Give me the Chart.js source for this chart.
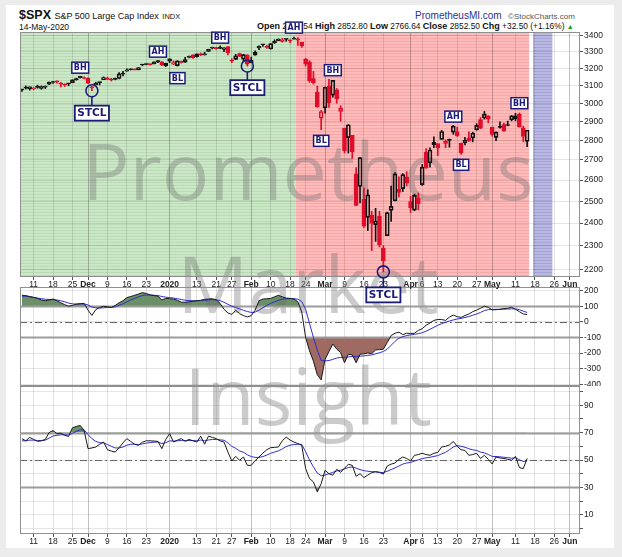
<!DOCTYPE html>
<html>
<head>
<meta charset="utf-8">
<script src="https://cdn.jsdelivr.net/npm/chart.js@4.4.1/dist/chart.umd.min.js"></script>
<style>
  body { margin: 0; background: #ececec; }
  #page { position: relative; width: 622px; height: 557px; overflow: hidden; font-family: "Liberation Sans", Arial, sans-serif; }
  #frame { position: absolute; left: 6px; top: 5px; width: 608px; height: 543px; background: #fff; }
  canvas { position: absolute; left: 0; }
  .hd { position: absolute; white-space: nowrap; line-height: 1; color: #111; }
  .hd b { font-size: 9px; }
</style>
</head>
<body>
<div id="page">
  <div id="frame"></div>
  <div class="hd" style="left:19px;top:9px;font-size:12.5px;font-weight:bold;">$SPX <span style="font-weight:normal;font-size:9px;">S&amp;P 500 Large Cap Index</span> <span style="font-weight:normal;font-size:7.5px;">INDX</span></div>
  <div class="hd" style="left:19px;top:23px;font-size:8.5px;">14-May-2020</div>
  <div class="hd" style="left:415px;top:11px;font-size:10px;color:#2e3192;">PrometheusMI.com</div>
  <div class="hd" style="left:508px;top:13px;font-size:8px;color:#555;">&copy;StockCharts.com</div>
  <div class="hd" style="left:257px;top:22px;font-size:8.4px;"><b>Open</b> 2794.54 <b>High</b> 2852.80 <b>Low</b> 2766.64 <b>Close</b> 2852.50 <b>Chg</b> +32.50 (+1.16%) <span style="color:#1a9a1a;font-size:7px;">&#9650;</span></div>
  <canvas id="rsi" width="622" height="171" style="top:386px;"></canvas>
  <canvas id="cci" width="622" height="99" style="top:287px;"></canvas>
  <canvas id="price" width="622" height="305" style="top:0;z-index:3;"></canvas>
</div>
<script>
// trading days shown on the axis (data ends 14-May, the rest is empty space)
const tradingDays = [
  ['2019-11', [6,7,8,11,12,13,14,15,18,19,20,21,22,25,26,27,29]],
  ['2019-12', [2,3,4,5,6,9,10,11,12,13,16,17,18,19,20,23,24,26,27,30,31]],
  ['2020-01', [2,3,6,7,8,9,10,13,14,15,16,17,21,22,23,24,27,28,29,30,31]],
  ['2020-02', [3,4,5,6,7,10,11,12,13,14,18,19,20,21,24,25,26,27,28]],
  ['2020-03', [2,3,4,5,6,9,10,11,12,13,16,17,18,19,20,23,24,25,26,27,30,31]],
  ['2020-04', [1,2,3,6,7,8,9,13,14,15,16,17,20,21,22,23,24,27,28,29,30]],
  ['2020-05', [1,4,5,6,7,8,11,12,13,14,15,18,19,20,21,22,26,27,28,29]],
  ['2020-06', [1,2,3]]
];
const dates = tradingDays.flatMap(([m, days]) => days.map(d => m + '-' + String(d).padStart(2, '0')));

const tickDates = ['2019-11-11','2019-11-18','2019-11-25','2019-12-02','2019-12-09','2019-12-16','2019-12-23',
  '2020-01-02','2020-01-13','2020-01-21','2020-01-27','2020-02-03','2020-02-10','2020-02-18','2020-02-24',
  '2020-03-02','2020-03-09','2020-03-16','2020-03-23','2020-04-01','2020-04-06','2020-04-13','2020-04-20',
  '2020-04-27','2020-05-01','2020-05-11','2020-05-18','2020-05-26','2020-06-01'];
const tickLabels = ['11','18','25','Dec','9','16','23','2020','13','21','27','Feb','10','18','24',
  'Mar','9','16','23','Apr','6','13','20','27','May','11','18','26','Jun'];

const opens = [3075.10,3087.02,3081.25,3080.33,3089.28,3084.18,3090.75,3107.92,3117.91,3127.45,3114.66,3108.49,3111.41,3117.44,3134.85,3145.49,3147.18,
  3143.85,3087.41,3103.50,3119.21,3134.62,3141.86,3135.36,3135.75,3141.23,3166.65,3183.63,3195.40,3195.21,3192.32,3223.33,3226.05,3225.45,3227.20,3247.23,3240.09,3215.18,
  3244.67,3226.36,3217.55,3241.86,3238.59,3266.03,3281.81,3271.13,3285.35,3282.27,3302.97,3323.66,3321.03,3330.02,3315.77,3333.10,3247.16,3255.35,3289.46,3256.45,3282.33,
  3235.66,3280.61,3324.91,3344.92,3335.54,3318.28,3365.87,3370.50,3365.90,3378.08,3369.04,3380.39,3380.45,3360.50,3257.61,3238.94,3139.90,3062.54,2916.90,
  2974.28,3096.46,3045.75,3075.70,2954.20,2863.89,2813.48,2825.60,2630.86,2569.99,2508.59,2425.66,2436.50,2393.48,2431.94,2290.71,2344.44,2457.77,2501.29,2555.87,2558.98,2614.69,
  2498.08,2458.54,2514.92,2578.28,2738.65,2685.00,2776.99,2782.46,2805.10,2795.64,2799.34,2842.43,2845.62,2784.81,2787.89,2810.42,2812.64,2854.65,2909.96,2918.46,2930.91,
  2869.09,2815.01,2868.88,2883.14,2878.26,2908.83,2915.46,2939.50,2865.86,2794.54];
const highs = [3078.34,3097.77,3093.09,3088.33,3102.61,3098.06,3098.20,3120.46,3124.17,3127.64,3118.97,3110.11,3112.87,3133.83,3142.69,3154.26,3150.30,
  3144.31,3094.97,3119.38,3119.45,3150.60,3148.87,3142.12,3143.98,3176.28,3182.68,3197.71,3198.22,3198.48,3205.48,3225.65,3227.78,3226.43,3240.08,3247.93,3240.92,3231.72,
  3258.14,3246.15,3246.84,3244.91,3267.07,3275.58,3282.99,3288.13,3294.25,3298.66,3317.11,3329.88,3329.79,3337.77,3326.88,3333.18,3258.85,3285.78,3293.47,3285.91,3282.33,
  3268.44,3306.92,3337.58,3347.96,3341.42,3352.26,3375.63,3381.47,3385.09,3380.69,3375.01,3393.52,3389.15,3360.76,3259.81,3246.99,3182.51,3097.07,2959.72,
  3090.96,3136.72,3130.97,3083.04,2985.93,2863.89,2882.59,2825.60,2660.95,2711.33,2562.98,2553.93,2453.57,2466.97,2453.01,2300.73,2449.71,2571.42,2637.01,2615.91,2631.80,2641.39,
  2522.75,2533.22,2538.18,2676.85,2756.89,2760.75,2818.57,2782.46,2851.85,2801.88,2806.51,2879.22,2868.98,2785.54,2815.10,2844.90,2842.71,2887.72,2921.15,2954.86,2930.91,
  2869.09,2844.24,2898.23,2891.11,2901.92,2932.16,2944.25,2945.82,2874.14,2852.80];
const lows = [3065.89,3080.23,3073.58,3075.82,3084.73,3078.80,3083.26,3104.60,3112.06,3113.47,3091.41,3094.55,3099.26,3117.44,3131.00,3143.41,3139.34,
  3110.78,3070.33,3102.53,3103.76,3134.62,3135.46,3126.09,3133.21,3138.47,3156.51,3183.63,3191.03,3191.14,3192.32,3216.03,3222.30,3220.51,3227.20,3234.37,3216.57,3212.03,
  3235.53,3222.34,3214.64,3232.43,3236.67,3263.67,3260.86,3268.43,3277.19,3280.69,3302.82,3318.86,3316.61,3320.04,3301.87,3281.53,3234.50,3253.22,3271.89,3242.80,3214.68,
  3235.66,3280.61,3313.75,3334.39,3322.12,3317.77,3352.72,3369.72,3360.52,3366.15,3355.61,3378.83,3341.02,3328.45,3214.65,3118.77,3108.99,2977.39,2855.84,
  2945.19,2976.63,3034.38,2999.83,2901.54,2734.43,2734.00,2707.22,2478.86,2492.37,2380.94,2367.04,2280.52,2319.78,2295.56,2191.86,2344.44,2407.53,2500.72,2520.02,2545.28,2571.15,
  2447.49,2455.79,2459.96,2574.57,2657.67,2663.30,2762.36,2721.17,2805.10,2761.54,2764.32,2830.88,2820.43,2727.10,2775.95,2794.26,2791.76,2852.89,2860.71,2912.16,2892.47,
  2821.61,2797.85,2863.55,2847.65,2876.48,2902.88,2903.44,2869.59,2793.15,2766.64];
const closes = [3076.78,3085.18,3093.08,3087.01,3091.84,3094.04,3096.63,3120.46,3122.03,3120.18,3108.46,3103.54,3110.29,3133.64,3140.52,3153.63,3140.98,
  3113.87,3093.20,3112.76,3117.43,3145.91,3135.96,3132.52,3141.63,3168.57,3168.80,3191.45,3192.52,3191.14,3205.37,3221.22,3224.01,3223.38,3239.91,3240.02,3221.29,3230.78,
  3257.85,3234.85,3246.28,3237.18,3253.05,3274.70,3265.35,3288.13,3283.15,3289.29,3316.81,3329.62,3320.79,3321.75,3325.54,3295.47,3243.63,3276.24,3273.40,3283.66,3225.52,
  3248.92,3297.59,3334.69,3345.78,3327.71,3352.09,3357.75,3379.45,3373.94,3380.16,3370.29,3386.15,3373.23,3337.75,3225.89,3128.21,3116.39,2978.76,2954.22,
  3090.23,3003.37,3130.12,3023.94,2972.37,2746.56,2882.23,2741.38,2480.64,2711.02,2386.13,2529.19,2398.10,2409.39,2304.92,2237.40,2447.33,2475.56,2630.07,2541.47,2626.65,2584.59,
  2470.50,2526.90,2488.65,2663.68,2659.41,2749.98,2789.82,2761.63,2846.06,2783.36,2799.55,2874.56,2823.16,2736.56,2799.31,2797.80,2836.74,2878.48,2863.39,2939.51,2912.43,
  2830.71,2842.74,2868.44,2848.42,2881.19,2929.80,2930.32,2870.12,2820.00,2852.50];

const cci = [170,168,162,157,150,140,135,140,146,135,
  122,110,100,105,113,116,118,75,41,78,
  92,100,96,92,105,122,135,155,162,170,
  178,187,182,172,168,164,140,150,148,146,
  138,126,125,128,132,135,138,144,146,148,
  140,118,80,57,47,74,52,40,31,40,
  74,135,146,148,150,160,170,160,152,150,
  146,129,63,-100,-186,-252,-339,-372,-240,-190,
  -142,-175,-197,-262,-208,-212,-262,-208,-205,-200,
  -204,-180,-178,-175,-133,-88,-73,-66,-82,-73,
  -75,-73,-55,-44,-22,-7,9,15,15,9,
  30,43,33,28,40,50,65,75,87,100,
  93,76,78,80,85,87,93,80,65,50,
  46];
const cciSignal = [165,163,160,156,152,148,145,143,142,140,135,128,120,
  115,114,115,115,108,95,90,88,90,92,
  92,96,105,115,128,140,150,160,168,172,
  172,170,168,162,158,155,152,148,143,138,
  136,135,135,136,138,140,142,141,136,125,
  112,100,92,83,74,66,60,62,75,90,
  105,118,128,138,145,148,149,148,145,130,
  80,-10,-100,-180,-248,-250,-248,-240,-232,-228,
  -228,-225,-222,-222,-220,-218,-215,-212,-205,-198,
  -190,-175,-150,-125,-105,-95,-88,-84,-80,-76,
  -70,-60,-48,-35,-22,-12,-3,5,12,18,
  22,28,34,42,50,60,72,78,80,80,
  80,81,82,83,83,78,68,60];
const rsi = [65.6,64,66.5,65,63.6,64,65,70,71.5,69.2,
  69.6,68,67.2,73.5,74.5,75.2,71.6,58.3,58.8,59.5,
  61.5,63.1,57.5,56.5,55.8,59,62.5,65.6,63.5,61.5,
  60.7,63,64,64,63.8,63.6,58.3,65,69.2,63.1,
  64.5,65.6,63.6,65,64,63.1,67.4,61.5,67.4,66.5,
  65.6,64,63.1,55.8,49.3,52.7,49.8,52.2,46.1,46.1,
  49.5,52.2,55,57.5,59,59.2,59.5,64,66.7,64.5,
  63.1,62,60.7,43.7,36.5,34,26.7,32.8,42.5,40,
  38.9,43.2,41,44,46.9,46.1,38.1,40,37.2,39,
  40.8,41.5,41,39.7,45.6,47,47.8,50.5,52.2,51.1,
  49.3,53.4,54,54.9,54,53.4,54.9,55.5,59.5,60,
  61,63.5,60,57.5,57,53.4,54,54.9,51.1,53.4,
  50.5,47.1,52.2,51.5,51.1,50.5,49.8,52.7,44.5,43.7,
  51.1];
const rsiSignal = [64,64,64.5,64.5,64.2,64.2,64.5,66,67.5,68,
  68.4,68.4,68.2,69.5,70.8,72,72,68.5,65.6,63.6,
  62.6,62.5,61.3,60,58.8,58.8,59.5,60.8,61.5,61.5,
  61.3,61.8,62.3,62.7,63,63.1,62,62.6,64,63.8,
  64,64.3,64.2,64.3,64.2,64,64.6,64,64.6,65,
  65,64.7,64.4,62.5,60,58.5,56.6,55.6,53.8,52.5,
  51.9,51.9,52.5,53.6,54.9,55.8,56.7,58.1,59.8,60.8,
  61.3,61.5,61.4,56,50,45,40.5,38.5,39,40,
  41,42,42.5,43.5,44.5,45,44,43,42.2,41.8,
  41.5,41.3,41,40.8,41.8,43,44.2,45.6,47,47.8,
  48.2,49.2,50.2,51,51.6,52,52.6,53.2,54.5,55.6,
  57.5,59.5,60.5,60,59.3,58.2,57.4,57,55.8,55.2,
  54,52.6,52.5,52.3,52,51.7,51.3,51.6,50.2,48.9,
  49.3];

const priceTicks = [2200,2300,2400,2500,2600,2700,2800,2900,3000,3100,3200,3300,3400];
const cciTicks = [200,100,0,-100,-200,-300,-400];
const cciLevels = [100, -100];
const rsiTicks = [0,10,20,30,40,50,60,70,80,90,100];
const rsiLabels = [10,30,50,70,90];
const rsiLevels = [70, 30];

// shaded zones: start date, end date
const zoneStarts = ['2019-11-06','2020-02-20','2020-05-18'];
const zoneEnds = ['2020-02-19','2020-05-14','2020-05-22'];

// chart notes: label, date, price
const noteText = ['BH','STCL','AH','BL','BH','STCL','AH','BL','BH','STCL','AH','BL','BH'];
const noteDates = ['2019-11-27','2019-12-03','2019-12-27','2020-01-06','2020-01-22','2020-01-31','2020-02-19',
  '2020-02-28','2020-03-04','2020-03-23','2020-04-17','2020-04-21','2020-05-12'];
const notePrices = [3205,2945,3302,3143,3389,3088,3453,2797,3190,2100,2926,2675,3000];
const lowCircleDates = ['2019-12-03','2020-01-31','2020-03-23'];

const watermarkText = ['Prometheus','Market','Insight'];

const idx = d => dates.indexOf(d);
const X_MIN = -0.5, X_MAX = 143.6;
const FONT = '"Liberation Sans", Arial, sans-serif';
const RED = '#df0c2a', BLACK = '#111';
const isMonthTick = i => isNaN(Number(tickLabels[i])) || tickLabels[i] === '2020';

Chart.defaults.font.family = FONT;
Chart.defaults.animation = false;

function xScale(showLabels) {
  return {
    type: 'linear', min: X_MIN, max: X_MAX, offset: false,
    afterBuildTicks: s => { s.ticks = tickDates.map(d => ({ value: idx(d) })); },
    afterFit: s => { s.height = showLabels ? 22 : 0; s.paddingLeft = 0; s.paddingRight = 0; },
    grid: {
      offset: false,
      color: c => isMonthTick(c.index) ? 'rgba(0,0,0,0.24)' : 'rgba(0,0,0,0.11)',
      tickColor: '#555', tickLength: 3, drawTicks: showLabels
    },
    border: { display: false },
    ticks: {
      display: showLabels, autoSkip: false, maxRotation: 0, padding: 0, color: '#222',
      font: c => ({ size: 8.5, family: FONT, weight: isMonthTick(c.index) ? 'bold' : 'normal' }),
      callback: (v, i) => tickLabels[i]
    }
  };
}

function yScale(type, min, max, ticks, label) {
  return {
    type, position: 'right', min, max,
    afterBuildTicks: s => { s.ticks = ticks.map(v => ({ value: v })); },
    afterFit: s => { s.width = 42; s.paddingTop = 0; s.paddingBottom = 0; },
    grid: { color: 'rgba(0,0,0,0.1)', tickColor: '#555', tickLength: 3 },
    border: { display: false },
    ticks: { padding: 1, color: '#222', font: { size: 8.5 }, callback: label || (v => String(v)) }
  };
}

function watermark(top, from, to) {
  return {
    id: 'watermark',
    beforeDatasetsDraw(chart) {
      const ctx = chart.ctx;
      ctx.save();
      ctx.beginPath();
      ctx.rect(0, from - top, chart.width, to - from);
      ctx.clip();
      ctx.fillStyle = 'rgba(110,110,110,0.36)';
      ctx.font = '79px "Open Sans"';
      ctx.textAlign = 'center';
      [200, 313, 425].forEach((b, i) => ctx.fillText(watermarkText[i], 308, b - top));
      ctx.restore();
    }
  };
}

function levels(values, mid) {
  return {
    id: 'levels',
    beforeDatasetsDraw(chart) {
      const { ctx, chartArea: a, scales: { y } } = chart;
      ctx.save();
      ctx.strokeStyle = '#9c9c9c';
      ctx.lineWidth = 2;
      values.forEach(v => {
        const py = Math.round(y.getPixelForValue(v)) + 0.5;
        ctx.beginPath(); ctx.moveTo(a.left, py); ctx.lineTo(a.right, py); ctx.stroke();
      });
      ctx.strokeStyle = '#666';
      ctx.lineWidth = 1;
      ctx.setLineDash([7, 3, 2, 3]);
      const py = Math.round(y.getPixelForValue(mid)) + 0.5;
      ctx.beginPath(); ctx.moveTo(a.left, py); ctx.lineTo(a.right, py); ctx.stroke();
      ctx.restore();
    }
  };
}

const frame = {
  id: 'frame',
  afterDatasetsDraw(chart) {
    const { ctx, chartArea: a } = chart;
    ctx.save();
    ctx.strokeStyle = '#8f8f8f';
    ctx.lineWidth = 1;
    ctx.strokeRect(a.left + 0.5, a.top + 0.5, a.right - a.left - 1, a.bottom - a.top - 1);
    ctx.restore();
  }
};

// ---------- price panel ----------
const priceCanvas = document.getElementById('price');
const pctx = priceCanvas.getContext('2d');
function stripes(base, line) {
  const c = document.createElement('canvas');
  c.width = 4; c.height = 3;
  const g = c.getContext('2d');
  g.fillStyle = base; g.fillRect(0, 0, 4, 3);
  g.fillStyle = line; g.fillRect(0, 2, 4, 1);
  return pctx.createPattern(c, 'repeat');
}
const zoneFills = [stripes('#cce7c7', '#b9dbb3'), stripes('#ffbaba', '#f6a9a9'), stripes('#b8b8e3', '#a4a4d6')];

const zones = {
  id: 'zones',
  beforeDraw(chart) {
    const { ctx, chartArea: a, scales: { x } } = chart;
    ctx.save();
    zoneStarts.forEach((s, i) => {
      const x0 = Math.max(a.left, x.getPixelForValue(idx(s) - 0.5));
      const x1 = x.getPixelForValue(idx(zoneEnds[i]) + 0.5);
      ctx.fillStyle = zoneFills[i];
      ctx.fillRect(x0, a.top, x1 - x0, a.bottom - a.top);
    });
    ctx.restore();
  }
};

const notes = {
  id: 'notes',
  afterDraw(chart) {
    const { ctx, scales: { x, y } } = chart;
    const navy = '#1c1c78';
    ctx.save();
    ctx.strokeStyle = navy;
    ctx.lineWidth = 1.6;
    lowCircleDates.forEach(d => {
      const i = idx(d);
      const cx = x.getPixelForValue(i), cy = y.getPixelForValue(lows[i]);
      const n = noteDates.indexOf(d);
      const by = y.getPixelForValue(notePrices[n]) - 7.5;
      ctx.beginPath(); ctx.moveTo(cx, cy + 6); ctx.lineTo(cx, by); ctx.stroke();
      ctx.beginPath(); ctx.arc(cx, cy, 6, 0, Math.PI * 2); ctx.stroke();
    });
    ctx.textAlign = 'center';
    ctx.textBaseline = 'middle';
    noteText.forEach((t, n) => {
      const big = t === 'STCL';
      ctx.font = big ? 'bold 10.5px "DejaVu Sans"' : 'bold 8px "DejaVu Sans"';
      const w = ctx.measureText(t).width + (big ? 5 : 4);
      const h = big ? 15 : 11;
      const cx = x.getPixelForValue(idx(noteDates[n])), cy = y.getPixelForValue(notePrices[n]);
      ctx.fillStyle = '#fff';
      ctx.fillRect(cx - w / 2, cy - h / 2, w, h);
      ctx.lineWidth = big ? 1.8 : 1.5;
      ctx.strokeRect(cx - w / 2, cy - h / 2, w, h);
      ctx.fillStyle = navy;
      ctx.fillText(t, cx, cy + 0.5);
    });
    ctx.restore();
  }
};

const upDay = closes.map((c, i) => i === 0 || c >= closes[i - 1]);
const candleColor = upDay.map(u => u ? BLACK : RED);
const bodyFill = closes.map((c, i) => c > opens[i] ? 'rgba(0,0,0,0)' : candleColor[i]);

new Chart(priceCanvas, {
  type: 'bar',
  data: {
    datasets: [
      {
        label: 'upper wick', order: 2, grouped: false, barThickness: 1, borderWidth: 0,
        data: closes.map((c, i) => ({ x: i, y: [Math.max(opens[i], c), highs[i]] })),
        backgroundColor: candleColor
      },
      {
        label: 'lower wick', order: 2, grouped: false, barThickness: 1, borderWidth: 0,
        data: closes.map((c, i) => ({ x: i, y: [lows[i], Math.min(opens[i], c)] })),
        backgroundColor: candleColor
      },
      {
        label: 'body', order: 1, grouped: false, barThickness: 4, borderWidth: 1, borderSkipped: false, minBarLength: 1,
        data: closes.map((c, i) => ({ x: i, y: [opens[i], c] })),
        backgroundColor: bodyFill, borderColor: candleColor
      }
    ]
  },
  options: {
    responsive: false, events: [],
    layout: { padding: { left: 20, top: 32, right: 0, bottom: 6 } },
    plugins: { legend: { display: false }, tooltip: { enabled: false } },
    scales: {
      x: xScale(true),
      y: yScale('logarithmic', 2171, 3425, priceTicks)
    }
  },
  plugins: [zones, watermark(0, 0, 287), frame, notes]
});

// ---------- CCI panel ----------
const pts = arr => arr.map((v, i) => ({ x: i, y: v }));
new Chart(document.getElementById('cci'), {
  type: 'line',
  data: {
    datasets: [
      { label: 'CCI', order: 1, data: pts(cci), borderColor: '#1a1a1a', borderWidth: 1, pointRadius: 0,
        fill: { target: { value: cciLevels[0] }, above: '#6b8f67', below: 'rgba(0,0,0,0)' } },
      { label: 'Signal', order: 2, data: pts(cciSignal), borderColor: '#2d2dd2', borderWidth: 1, pointRadius: 0, fill: false },
      { label: 'low', order: 3, data: pts(cci), borderWidth: 0, pointRadius: 0,
        fill: { target: { value: cciLevels[1] }, above: 'rgba(0,0,0,0)', below: '#9e6a62' } }
    ]
  },
  options: {
    responsive: false, events: [],
    layout: { padding: { left: 20, top: 0, right: 0, bottom: 0 } },
    plugins: { legend: { display: false }, tooltip: { enabled: false }, filler: { drawTime: 'beforeDatasetsDraw' } },
    scales: {
      x: xScale(false),
      y: yScale('linear', -411, 223, cciTicks)
    }
  },
  plugins: [watermark(287, 287, 386), levels(cciLevels, 0), frame]
});

// ---------- RSI panel ----------
new Chart(document.getElementById('rsi'), {
  type: 'line',
  data: {
    datasets: [
      { label: 'RSI', order: 1, data: pts(rsi), borderColor: '#1a1a1a', borderWidth: 1, pointRadius: 0,
        fill: { target: { value: rsiLevels[0] }, above: '#6b8f67', below: 'rgba(0,0,0,0)' } },
      { label: 'Signal', order: 2, data: pts(rsiSignal), borderColor: '#2d2dd2', borderWidth: 1, pointRadius: 0, fill: false },
      { label: 'low', order: 3, data: pts(rsi), borderWidth: 0, pointRadius: 0,
        fill: { target: { value: rsiLevels[1] }, above: 'rgba(0,0,0,0)', below: '#b46060' } }
    ]
  },
  options: {
    responsive: false, events: [],
    layout: { padding: { left: 20, top: 0, right: 0, bottom: 1 } },
    plugins: { legend: { display: false }, tooltip: { enabled: false }, filler: { drawTime: 'beforeDatasetsDraw' } },
    scales: {
      x: xScale(true),
      y: yScale('linear', -4, 104, rsiTicks, v => rsiLabels.includes(v) ? String(v) : '')
    }
  },
  plugins: [watermark(386, 386, 557), levels(rsiLevels, 50), frame]
});
</script>
</body>
</html>
